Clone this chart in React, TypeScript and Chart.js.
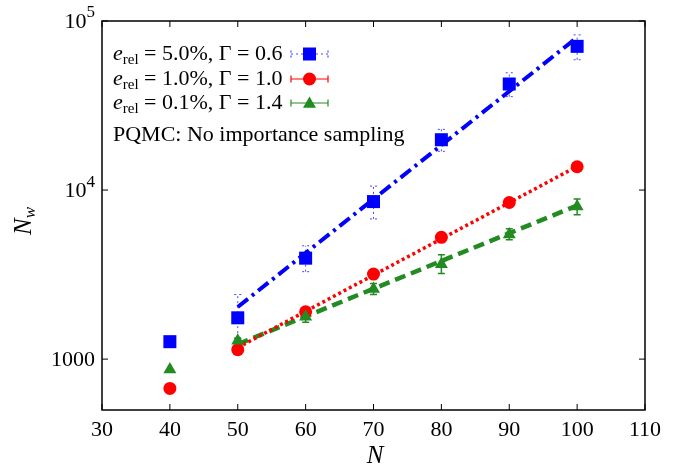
import React, { useEffect, useRef } from 'react';
import { Chart, registerables } from 'chart.js';

Chart.register(...registerables);

// ---------- data ----------
const N = [40, 50, 60, 70, 80, 90, 100];

const blueVals = [1268, 1755, 3955, 8545, 19850, 42400, 70800];
const blueLow = [null, 1330, 3290, 6750, 16950, 35700, 59000];
const blueHigh = [null, 2410, 4680, 10550, 22850, 49400, 82800];

const redVals = [671, 1137, 1903, 3185, 5250, 8440, 13740];
const redLow = [null, 1115, 1875, 3140, 5180, 8330, 13520];
const redHigh = [null, 1160, 1930, 3230, 5320, 8550, 13960];

const greenVals = [868, 1285, 1778, 2600, 3645, 5465, 7985];
const greenLow = [null, 1240, 1651, 2410, 3205, 5080, 7140];
const greenHigh = [null, 1330, 1943, 2800, 4145, 5895, 8860];

const fitN = [50, 100];
const blueFit = [2035, 80000];
const redFit = [1170, 13800];
const greenFit = [1225, 8100];

const xTicks = [30, 40, 50, 60, 70, 80, 90, 100, 110];
const yTicks = [1000, 10000, 100000];
// tick label = base + superscript exponent (empty exponent -> plain label)
const yTickBase = ['1000', '10', '10'];
const yTickExp = ['', '4', '5'];

const relErrs = ['5.0%', '1.0%', '0.1%'];
const gammas = ['0.6', '1.0', '1.4'];
const noteText = 'PQMC: No importance sampling';

const BLUE = '#0000ff';
const RED = '#ff0000';
const GREEN = '#228b22';
const SERIF = '"Liberation Serif", "DejaVu Serif", "Times New Roman", serif';

type Part = { text: string; font: string; dy: number };

function drawParts(ctx: CanvasRenderingContext2D, x: number, y: number, parts: Part[]) {
  let cx = x;
  for (const p of parts) {
    ctx.font = p.font;
    ctx.fillText(p.text, cx, y + p.dy);
    cx += ctx.measureText(p.text).width;
  }
  return cx;
}

function partsWidth(ctx: CanvasRenderingContext2D, parts: Part[]) {
  let w = 0;
  for (const p of parts) {
    ctx.font = p.font;
    w += ctx.measureText(p.text).width;
  }
  return w;
}

function drawMarker(ctx: CanvasRenderingContext2D, kind: string, x: number, y: number, color: string) {
  ctx.save();
  ctx.fillStyle = color;
  ctx.beginPath();
  if (kind === 'rect') {
    const s = 6.5;
    ctx.rect(x - s, y - s, 2 * s, 2 * s);
  } else if (kind === 'circle') {
    ctx.arc(x, y, 6.5, 0, Math.PI * 2);
  } else {
    const r = 7.5;
    ctx.moveTo(x, y - r);
    ctx.lineTo(x + r * Math.sin((2 * Math.PI) / 3), y - r * Math.cos((2 * Math.PI) / 3));
    ctx.lineTo(x + r * Math.sin((4 * Math.PI) / 3), y - r * Math.cos((4 * Math.PI) / 3));
    ctx.closePath();
  }
  ctx.fill();
  ctx.restore();
}

const seriesStyle = [
  { color: BLUE, low: blueLow, high: blueHigh, dash: [2, 3], barColor: 'rgba(40,40,255,0.85)', width: 1, marker: 'rect' },
  { color: RED, low: redLow, high: redHigh, dash: [], barColor: RED, width: 1.2, marker: 'circle' },
  { color: GREEN, low: greenLow, high: greenHigh, dash: [], barColor: GREEN, width: 1.5, marker: 'triangle' },
];

const overlay = {
  id: 'overlay',
  beforeDatasetsDraw(chart: any) {
    const ctx: CanvasRenderingContext2D = chart.ctx;
    const xs = chart.scales.x;
    const ys = chart.scales.y;
    ctx.save();
    seriesStyle.forEach((s) => {
      ctx.strokeStyle = s.barColor;
      ctx.lineWidth = s.width;
      ctx.setLineDash(s.dash);
      N.forEach((n, i) => {
        const lo = s.low[i];
        const hi = s.high[i];
        if (lo == null || hi == null) return;
        const px = xs.getPixelForValue(n);
        const py1 = ys.getPixelForValue(lo);
        const py2 = ys.getPixelForValue(hi);
        ctx.beginPath();
        ctx.moveTo(px, py1);
        ctx.lineTo(px, py2);
        ctx.moveTo(px - 3.5, py1);
        ctx.lineTo(px + 3.5, py1);
        ctx.moveTo(px - 3.5, py2);
        ctx.lineTo(px + 3.5, py2);
        ctx.stroke();
      });
    });
    ctx.restore();
  },
  afterDraw(chart: any) {
    const ctx: CanvasRenderingContext2D = chart.ctx;
    const area = chart.chartArea;
    const xs = chart.scales.x;
    const ys = chart.scales.y;
    ctx.save();
    // frame
    ctx.strokeStyle = '#000';
    ctx.lineWidth = 1.5;
    ctx.setLineDash([]);
    ctx.strokeRect(area.left, area.top, area.right - area.left, area.bottom - area.top);
    // inward ticks
    ctx.lineWidth = 1;
    const tl = 6;
    ctx.beginPath();
    xTicks.forEach((t) => {
      const px = xs.getPixelForValue(t);
      ctx.moveTo(px, area.bottom);
      ctx.lineTo(px, area.bottom - tl);
      ctx.moveTo(px, area.top);
      ctx.lineTo(px, area.top + tl);
    });
    yTicks.forEach((t) => {
      const py = ys.getPixelForValue(t);
      ctx.moveTo(area.left, py);
      ctx.lineTo(area.left + tl, py);
      ctx.moveTo(area.right, py);
      ctx.lineTo(area.right - tl, py);
    });
    ctx.stroke();

    ctx.fillStyle = '#000';
    ctx.textBaseline = 'middle';
    ctx.textAlign = 'left';

    // y tick labels with superscript exponents
    yTicks.forEach((t, i) => {
      const py = ys.getPixelForValue(t);
      const parts: Part[] = [{ text: yTickBase[i], font: `22px ${SERIF}`, dy: 1 }];
      if (yTickExp[i]) parts.push({ text: yTickExp[i], font: `17px ${SERIF}`, dy: -8 });
      const w = partsWidth(ctx, parts);
      drawParts(ctx, area.left - 7 - w, py, parts);
    });

    // legend
    const rowY = [54, 79, 103];
    const fMain = `22px ${SERIF}`;
    const fIt = `italic 22px ${SERIF}`;
    const fSub = `15px ${SERIF}`;
    relErrs.forEach((e, i) => {
      drawParts(ctx, 113, rowY[i], [
        { text: 'e', font: fIt, dy: 0 },
        { text: 'rel', font: fSub, dy: 6 },
        { text: ` = ${e}, Γ = ${gammas[i]}`, font: fMain, dy: 0 },
      ]);
      const s = seriesStyle[i];
      const y = rowY[i];
      ctx.save();
      ctx.strokeStyle = s.barColor;
      ctx.lineWidth = 1.2;
      ctx.setLineDash(s.dash);
      ctx.beginPath();
      ctx.moveTo(291, y);
      ctx.lineTo(328, y);
      ctx.moveTo(291, y - 3.5);
      ctx.lineTo(291, y + 3.5);
      ctx.moveTo(328, y - 3.5);
      ctx.lineTo(328, y + 3.5);
      ctx.stroke();
      ctx.restore();
      drawMarker(ctx, s.marker, 309.5, s.marker === 'triangle' ? y + 1 : y, s.color);
    });
    ctx.font = fMain;
    ctx.fillText(noteText, 113, 135);

    // axis titles
    ctx.textAlign = 'center';
    ctx.font = `italic 25px ${SERIF}`;
    ctx.fillText('N', 375, 456);

    const yParts: Part[] = [
      { text: 'N', font: `italic 25px ${SERIF}`, dy: 0 },
      { text: 'w', font: `italic 17px ${SERIF}`, dy: 7 },
    ];
    ctx.save();
    ctx.translate(24, 221);
    ctx.rotate(-Math.PI / 2);
    ctx.textAlign = 'left';
    const w = partsWidth(ctx, yParts);
    drawParts(ctx, -w / 2, 0, yParts);
    ctx.restore();

    ctx.restore();
  },
};

export default function App() {
  const ref = useRef<HTMLCanvasElement | null>(null);
  useEffect(() => {
    if (!ref.current) return;
    const pts = (vals: number[]) => N.map((n, i) => ({ x: n, y: vals[i] }));
    const fit = (vals: number[]) => fitN.map((n, i) => ({ x: n, y: vals[i] }));
    const chart = new Chart(ref.current, {
      type: 'scatter',
      data: {
        datasets: [
          { label: 'blue', data: pts(blueVals), pointStyle: 'rect', pointRadius: 9.2, backgroundColor: BLUE, borderColor: BLUE, borderWidth: 0, order: 1 },
          { label: 'red', data: pts(redVals), pointStyle: 'circle', pointRadius: 6.5, backgroundColor: RED, borderColor: RED, borderWidth: 0, order: 2 },
          { label: 'green', data: pts(greenVals), pointStyle: 'triangle', pointRadius: 7.5, backgroundColor: GREEN, borderColor: GREEN, borderWidth: 0, order: 0 },
          { label: 'blueFit', data: fit(blueFit), showLine: true, pointRadius: 0, borderColor: BLUE, borderWidth: 4, borderDash: [13, 5, 3, 5], order: 3 },
          { label: 'redFit', data: fit(redFit), showLine: true, pointRadius: 0, borderColor: RED, borderWidth: 3.5, borderDash: [3, 3], order: 4 },
          { label: 'greenFit', data: fit(greenFit), showLine: true, pointRadius: 0, borderColor: GREEN, borderWidth: 4.5, borderDash: [11, 6], order: 5 },
        ] as any,
      },
      options: {
        responsive: false,
        animation: false,
        events: [],
        layout: { padding: { top: 21, right: 34, left: 0, bottom: 0 } },
        plugins: { legend: { display: false }, tooltip: { enabled: false }, title: { display: false } },
        scales: {
          x: {
            type: 'linear',
            min: 30,
            max: 110,
            grid: { display: false, drawTicks: false },
            border: { display: false },
            ticks: { stepSize: 10, color: '#000', font: { family: SERIF, size: 22 }, padding: 7, maxRotation: 0 },
            afterFit: (s: any) => { s.height = 56; },
          },
          y: {
            type: 'logarithmic',
            min: 500,
            max: 100000,
            grid: { display: false, drawTicks: false },
            border: { display: false },
            afterBuildTicks: (s: any) => { s.ticks = yTicks.map((v) => ({ value: v })); },
            ticks: { display: false },
            afterFit: (s: any) => { s.width = 102; },
          },
        },
      } as any,
      plugins: [overlay],
    });
    return () => chart.destroy();
  }, []);
  return (
    <div style={{ position: 'absolute', left: 0, top: 0, width: 679, height: 466, background: '#fff' }}>
      <canvas ref={ref} width={679} height={466} style={{ display: 'block' }} />
    </div>
  );
}
